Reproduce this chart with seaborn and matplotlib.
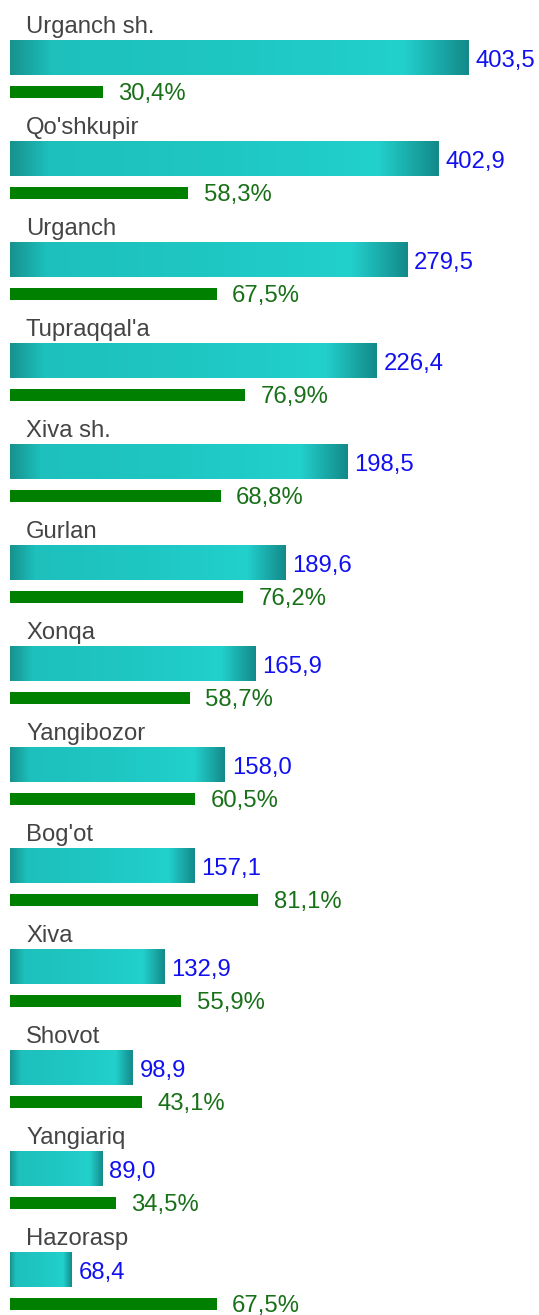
import numpy as np
import pandas as pd
import matplotlib
matplotlib.use("Agg")
import matplotlib.pyplot as plt
from matplotlib.colors import LinearSegmentedColormap
import seaborn as sns

# ---- data ----
districts = ["Urganch sh.", "Qo'shkupir", "Urganch", "Tupraqqal'a", "Xiva sh.",
             "Gurlan", "Xonqa", "Yangibozor", "Bog'ot", "Xiva", "Shovot",
             "Yangiariq", "Hazorasp"]
values = [403.5, 402.9, 279.5, 226.4, 198.5, 189.6, 165.9, 158.0, 157.1,
          132.9, 98.9, 89.0, 68.4]
value_labels = ["403,5", "402,9", "279,5", "226,4", "198,5", "189,6", "165,9",
                "158,0", "157,1", "132,9", "98,9", "89,0", "68,4"]
# drawn length of the teal bars
bar_size = [403.5, 376.3, 349.0, 322.6, 296.3, 241.8, 215.4, 189.0, 161.8,
            135.4, 108.1, 80.9, 54.5]
percents = [30.4, 58.3, 67.5, 76.9, 68.8, 76.2, 58.7, 60.5, 81.1, 55.9, 43.1,
            34.5, 67.5]
percent_labels = ["30,4%", "58,3%", "67,5%", "76,9%", "68,8%", "76,2%", "58,7%",
                  "60,5%", "81,1%", "55,9%", "43,1%", "34,5%", "67,5%"]

W, H = 539, 1315
DPI = 100
sns.set_theme(style="white")
plt.rcParams['font.family'] = ['Liberation Sans', 'DejaVu Sans']

fig = plt.figure(figsize=(W / DPI, H / DPI), dpi=DPI)
fig.patch.set_facecolor("white")
rect = [10 / W, 0, (W - 10) / W, 1]
ax_t = fig.add_axes(rect)
ax_g = fig.add_axes(rect)
for a in (ax_t, ax_g):
    a.set_facecolor("none")

n = len(districts)
pos = np.arange(n, dtype=float)
GREEN_OFF = 0.335
df_t = pd.DataFrame({"pos": pos, "size": bar_size})
df_g = pd.DataFrame({"pos": pos + GREEN_OFF, "pct": percents})

sns.barplot(data=df_t, x="size", y="pos", orient="h", native_scale=True,
            width=0.337, color="#1fc7c3", saturation=1, linewidth=0,
            errorbar=None, ax=ax_t)
sns.barplot(data=df_g, x="pct", y="pos", orient="h", native_scale=True,
            width=0.115, color="#008000", saturation=1, linewidth=0,
            errorbar=None, ax=ax_g)

ylim = ((H - 58) / 101.0, -58 / 101.0)
xlim_t = (0, (W - 10) * 403.5 / 459.0)
xlim_g = (0, (W - 10) / 3.06)

# gradient on teal bars
cmap = LinearSegmentedColormap.from_list(
    "teal", [(0.0, "#17928f"), (0.09, "#1dc0bc"), (0.5, "#1fc7c3"),
             (0.86, "#22d0cc"), (1.0, "#138a8a")])
grad = np.linspace(0, 1, 256).reshape(1, -1)
for p in list(ax_t.patches):
    x0, y0 = p.get_x(), p.get_y()
    w, h = p.get_width(), p.get_height()
    ax_t.imshow(grad, cmap=cmap, aspect="auto", extent=(x0, x0 + w, y0 + h, y0),
                zorder=3, interpolation="bilinear")

for a, xl in ((ax_t, xlim_t), (ax_g, xlim_g)):
    a.set_xlim(*xl)
    a.set_ylim(*ylim)
    a.axis("off")

PX = 0.72  # points per pixel at 100 dpi
FS = 17.2
for i in range(n):
    ax_t.annotate(districts[i], xy=(0, pos[i]), xytext=(16 * PX, 24.7 * PX),
                  textcoords="offset points", ha="left", va="baseline",
                  fontsize=FS, color="#444444")
    ax_t.annotate(value_labels[i], xy=(bar_size[i], pos[i]),
                  xytext=(7 * PX, -8.8 * PX), textcoords="offset points",
                  ha="left", va="baseline", fontsize=FS, color="#1010f0")
    ax_g.annotate(percent_labels[i], xy=(percents[i], pos[i] + GREEN_OFF),
                  xytext=(15.5 * PX, -8.0 * PX), textcoords="offset points",
                  ha="left", va="baseline", fontsize=FS, color="#187018")

fig.savefig("out.png", dpi=DPI, facecolor="white")
